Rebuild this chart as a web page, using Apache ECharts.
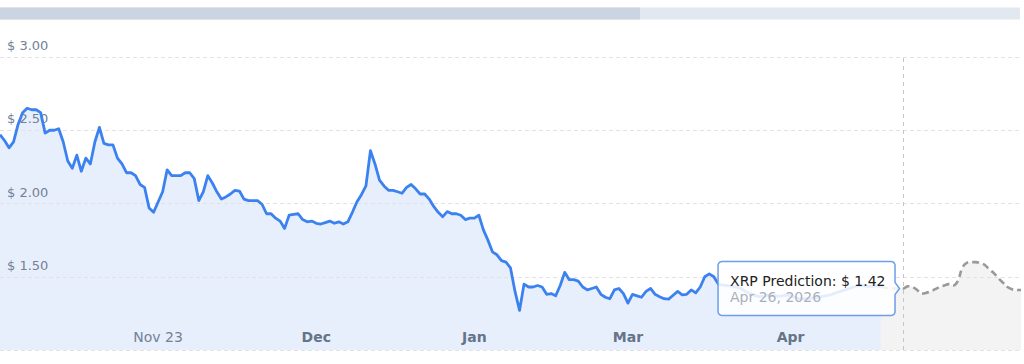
<!DOCTYPE html>
<html>
<head>
<meta charset="utf-8">
<script src="https://cdn.jsdelivr.net/npm/echarts@6/dist/echarts.min.js"></script>
<style>
html,body{margin:0;padding:0;background:#ffffff;}
#chart{width:1024px;height:364px;}
</style>
</head>
<body>
<div id="chart"></div>
<script>
// ---------- data ----------
const startDate = '2025-10-08';      // first daily category
const historyValues = [
  2.47,2.43,2.38,2.42,2.54,2.62,2.65,2.64,2.64,2.62,
  2.48,2.50,2.50,2.51,2.42,2.29,2.24,2.33,2.22,2.31,
  2.27,2.42,2.52,2.41,2.40,2.40,2.31,2.27,2.21,2.21,
  2.19,2.13,2.11,1.97,1.94,2.01,2.08,2.23,2.19,2.19,
  2.19,2.21,2.21,2.17,2.02,2.08,2.19,2.14,2.08,2.03,
  2.045,2.065,2.09,2.085,2.03,2.02,2.02,2.02,1.995,1.93,
  1.93,1.90,1.88,1.83,1.92,1.925,1.93,1.89,1.875,1.88,
  1.865,1.86,1.87,1.88,1.865,1.875,1.86,1.875,1.94,2.01,
  2.06,2.12,2.36,2.27,2.16,2.12,2.09,2.09,2.08,2.07,
  2.11,2.13,2.10,2.065,2.065,2.03,1.98,1.94,1.91,1.945,
  1.93,1.93,1.92,1.89,1.90,1.90,1.92,1.82,1.75,1.67,
  1.65,1.61,1.60,1.56,1.40,1.27,1.45,1.43,1.43,1.44,
  1.43,1.38,1.385,1.37,1.44,1.53,1.48,1.48,1.47,1.43,
  1.41,1.42,1.43,1.38,1.36,1.35,1.41,1.42,1.385,1.32,
  1.38,1.37,1.36,1.40,1.42,1.38,1.364,1.35,1.347,1.374,
  1.40,1.377,1.38,1.41,1.39,1.43,1.50,1.52,1.50,1.45,
  1.443,1.44,1.436,1.43,1.42,1.40,1.386,1.375,1.364,1.368,
  1.375,1.372,1.368,1.37,1.375,1.372,1.36,1.35,1.35,1.35,
  1.355,1.36,1.366,1.372,1.378,1.39,1.40,1.41,1.42,1.43,
  1.44,1.44,1.435,1.435,1.44,1.43
];
// prediction starts on the last history day
const predictionValues = [
  1.43,1.425,1.42,1.42,1.42,1.42,1.435,1.43,1.41,1.385,
  1.39,1.40,1.415,1.43,1.44,1.45,1.44,1.47,1.56,1.595,
  1.60,1.60,1.592,1.58,1.55,1.525,1.49,1.46,1.43,1.415,
  1.41,1.41
];
const xTickDates  = ['2025-11-12','2025-12-17','2026-01-21','2026-02-24','2026-04-01'];
const xTickLabels = ['Nov 23','Dec','Jan','Mar','Apr'];
const xTickBold   = [false,true,true,true,true];
const yMin = 1.0, yMax = 3.0, yStep = 0.5;
const tooltipDate = '2026-04-26';
const tooltipDateText = 'Apr 26, 2026';
const tooltipName = 'XRP Prediction';

// ---------- derived ----------
const totalDays = historyValues.length - 1 + predictionValues.length;
const categories = [];
{
  const d0 = new Date(startDate + 'T00:00:00Z');
  for (let i = 0; i < totalDays; i++) {
    const d = new Date(d0.getTime() + i * 86400000);
    categories.push(d.toISOString().slice(0, 10));
  }
}
const predStart = historyValues.length - 1;
const predSeries = new Array(predStart).fill(null).concat(predictionValues);
const tipIndex = categories.indexOf(tooltipDate);
const tipValue = predSeries[tipIndex];

const FONT = 'DejaVu Sans';
const chart = echarts.init(document.getElementById('chart'), null, {renderer: 'svg'});

chart.setOption({
  animation: false,
  backgroundColor: '#ffffff',
  grid: {left: 0, right: 3, top: 57, bottom: 14, containLabel: false, outerBoundsMode: 'none'},
  xAxis: {
    type: 'category',
    data: categories,
    boundaryGap: false,
    z: 2,
    axisLine: {show: false},
    axisTick: {show: false},
    splitLine: {show: false},
    axisLabel: {
      inside: true,
      margin: 6,
      interval: function (idx, val) { return xTickDates.indexOf(val) >= 0; },
      formatter: function (val) {
        const k = xTickDates.indexOf(val);
        if (k < 0) return '';
        return xTickBold[k] ? '{b|' + xTickLabels[k] + '}' : '{n|' + xTickLabels[k] + '}';
      },
      rich: {
        n: {fontFamily: FONT, fontSize: 14, color: '#738197'},
        b: {fontFamily: FONT, fontSize: 14, fontWeight: 'bold', color: '#647489'}
      }
    }
  },
  yAxis: {
    type: 'value',
    min: yMin, max: yMax, interval: yStep,
    z: 2,
    axisLine: {show: false},
    axisTick: {show: false},
    splitLine: {show: true, lineStyle: {color: '#e2e2e2', type: [4, 3], width: 1}},
    axisLabel: {
      inside: true,
      margin: 7,
      showMinLabel: false,
      verticalAlign: 'bottom',
      padding: [0, 0, 5, 0],
      fontFamily: FONT,
      fontSize: 13,
      color: '#738197',
      formatter: function (v) { return '$ ' + v.toFixed(2); }
    }
  },
  series: [
    { // history fill (below axis labels)
      name: 'XRP area',
      type: 'line',
      data: historyValues,
      symbol: 'none',
      lineStyle: {width: 0, opacity: 0},
      areaStyle: {color: '#e8effc', opacity: 1},
      silent: true,
      z: 1
    },
    { // prediction fill
      name: 'Prediction area',
      type: 'line',
      data: predSeries,
      symbol: 'none',
      smooth: 0.4,
      lineStyle: {width: 0, opacity: 0},
      areaStyle: {color: '#f3f3f3', opacity: 1},
      silent: true,
      z: 1
    },
    {
      name: 'XRP',
      type: 'line',
      data: historyValues,
      symbol: 'none',
      smooth: false,
      lineStyle: {color: '#3b82f0', width: 2.8, join: 'round'},
      z: 3
    },
    {
      name: tooltipName,
      type: 'line',
      data: predSeries,
      symbol: 'none',
      smooth: 0.4,
      lineStyle: {color: '#999999', width: 2.6, type: [7, 4]},
      z: 3,
      markLine: {
        silent: true,
        symbol: ['none', 'none'],
        label: {show: false},
        lineStyle: {color: '#c6c6c6', type: [4, 4], width: 1},
        data: [{xAxis: tooltipDate}]
      }
    }
  ]
});

// ---------- static tooltip drawn at the hovered prediction point ----------
const p = chart.convertToPixel({gridIndex: 0}, [tooltipDate, tipValue]);
const px = p[0], py = p[1];
const R = px - 8.5, L = R - 177, T = py - 27, B = py + 27, r = 4, ah = 6, tip = px - 4;
function arc(cx, cy, a0, a1, out) {
  const n = 5;
  for (let k = 0; k <= n; k++) {
    const a = (a0 + (a1 - a0) * k / n) * Math.PI / 180;
    out.push([cx + r * Math.cos(a), cy + r * Math.sin(a)]);
  }
}
const outline = [];
arc(L + r, T + r, 180, 270, outline);
arc(R - r, T + r, 270, 360, outline);
outline.push([R, py - ah], [tip, py], [R, py + ah]);
arc(R - r, B - r, 0, 90, outline);
arc(L + r, B - r, 90, 180, outline);

chart.setOption({
  graphic: [
    {type: 'rect', silent: true, z: 10, shape: {x: 0, y: 7.5, width: 1020, height: 12}, style: {fill: '#e2e8f0'}},
    {type: 'rect', silent: true, z: 11, shape: {x: 0, y: 7.5, width: 640, height: 12}, style: {fill: '#cbd5e1'}},
    {type: 'polygon', silent: true, z: 20, shape: {points: outline},
      style: {fill: 'rgba(255,255,255,0.86)', stroke: '#6d9eeb', lineWidth: 1.5}},
    {type: 'text', silent: true, z: 21, x: L + 12, y: py - 7.5,
      style: {text: tooltipName + ': $ ' + tipValue.toFixed(2), fontFamily: FONT, fontSize: 14,
        fill: '#222222', verticalAlign: 'middle', align: 'left'}},
    {type: 'text', silent: true, z: 21, x: L + 12, y: py + 9,
      style: {text: tooltipDateText, fontFamily: FONT, fontSize: 14,
        fill: '#aab1bb', verticalAlign: 'middle', align: 'left'}}
  ]
});
</script>
</body>
</html>
